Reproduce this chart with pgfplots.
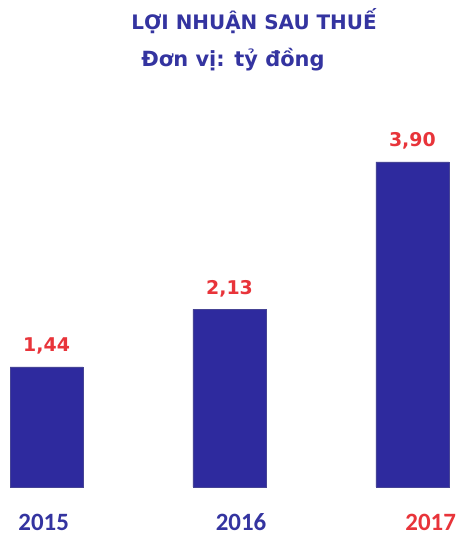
\documentclass[border=0pt]{standalone}
\usepackage{fontspec}
\usepackage{pgfplots}
\pgfplotsset{compat=1.18}
\setmainfont{DejaVu Sans}
\newfontfamily\dv{DejaVu Sans}
\newfontfamily\cb{Carlito}
\definecolor{barblue}{RGB}{46,42,158}
\definecolor{titleblue}{RGB}{52,52,160}
\definecolor{valred}{RGB}{232,52,58}
\begin{document}
\begin{tikzpicture}[x=1bp,y=1bp]
\useasboundingbox (0,0) rectangle (460,536);
\begin{axis}[
  at={(10bp,49bp)}, anchor=south west,
  scale only axis, width=439bp, height=375bp,
  xmin=-0.2, xmax=2.2, ymin=0, ymax=4.5,
  axis line style={draw=none}, major tick length=0pt,
  ytick=\empty,
  xtick={-0.016,1.063,2.10},
  xticklabels={{\textcolor{titleblue}{2015}},{\textcolor{titleblue}{2016}},{\textcolor{valred}{2017}}},
  xticklabel style={font=\cb\bfseries\fontsize{25}{25}\selectfont, anchor=base, yshift=-44bp, inner sep=0pt},
  clip=false,
  nodes near coords,
  point meta=explicit symbolic,
  every node near coord/.append style={font=\dv\bfseries\fontsize{19}{19}\selectfont, text=valred, anchor=base, yshift=15bp, inner sep=0pt},
]
\addplot[ybar, bar width=0.4, fill=barblue, draw=barblue!70!gray, line width=0.6pt]
  coordinates {(0,1.44) [1,44] (1,2.13) [2,13] (2,3.90) [3,90]};
\end{axis}
\node[anchor=base, text=titleblue, font=\dv\bfseries\fontsize{20}{20}\selectfont, inner sep=0pt] at (254,506) {LỢI NHUẬN SAU THUẾ};
\node[anchor=base, text=titleblue, font=\dv\bfseries\fontsize{21}{21}\selectfont, inner sep=0pt] at (233,469) {Đơn vị: tỷ đồng};
\end{tikzpicture}
\end{document}
